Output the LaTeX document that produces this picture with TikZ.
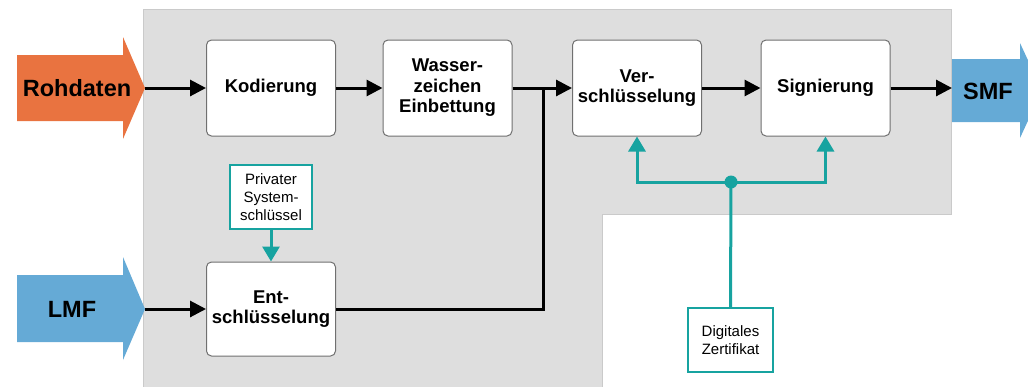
\documentclass[tikz,border=0pt]{standalone}
\usepackage{fontspec}
\setmainfont{Liberation Sans}
\usepackage{xcolor}
\usepackage{tikz}
\usetikzlibrary{arrows.meta,positioning,calc}

\definecolor{grau}{HTML}{DEDEDE}
\definecolor{graurand}{HTML}{CACACA}
\definecolor{orangerot}{HTML}{E97340}
\definecolor{hellblau}{HTML}{65AAD6}
\definecolor{petrol}{HTML}{17A3A0}
\definecolor{kasten}{HTML}{707070}

\begin{document}
\begin{tikzpicture}[x=1pt, y=-1pt,
        block/.style={draw=kasten, line width=1pt, fill=white, rounded corners=5pt,
            minimum width=129pt, minimum height=96pt, align=center,
            font=\fontsize{18.5}{20.5}\selectfont\bfseries},
        schluessel/.style={draw=petrol, line width=1.3pt, fill=white, inner sep=2pt,
            align=center, font=\fontsize{15}{18}\selectfont},
        gross/.style={font=\fontsize{23.5}{26}\selectfont\bfseries},
        fluss/.style={line width=3pt, -{Triangle[length=16pt,width=16pt]}},
        petrolfluss/.style={draw=petrol, line width=3pt, -{Triangle[length=15pt,width=17pt]}}]
    \useasboundingbox (0,0) rectangle (1028,386);
    % grauer Hintergrund
    \draw[graurand, fill=grau, line width=1pt] (143,9) -- (951,9) -- (951,214) -- (602,214)
        -- (602,390) -- (143,390) -- cycle;

    % Eingaenge und Ausgang
    \fill[orangerot] (17,55) -- (123,55) -- (123,37) -- (145,88) -- (123,139) -- (123,121)
        -- (17,121) -- cycle;
    \fill[hellblau] (17,275) -- (123,275) -- (123,257) -- (145,309) -- (123,360) -- (123,342)
        -- (17,342) -- cycle;
    \fill[hellblau] (952,59) -- (1020,59) -- (1020,43) -- (1042,90.5) -- (1020,138) -- (1020,122)
        -- (952,122) -- cycle;
    \coordinate (rohspitze) at (145,88);
    \coordinate (lmfspitze) at (145,309);
    \coordinate (smfende) at (952,88);
    \node [gross] (roh) at (77,88) {Rohdaten};
    \node [gross] (lmf) at (72,309) {LMF};
    \node [gross] (smf) at (988,91) {SMF};

    % Verarbeitung
    \node [block] (kod) at (271,88) {Kodierung};
    \node [block] (wass) at (447.5,88) {Wasser-\\zeichen\\Einbettung};
    \node [block] (ver) at (637,88) {Ver-\\schlüsselung};
    \node [block] (sign) at (825.5,88) {Signierung};
    \node [block, minimum height=94pt] (ent) at (271,309) {Ent-\\schlüsselung};

    \node [schluessel, minimum width=82pt, minimum height=64pt] (priv) at (271,197)
        {Privater\\System-\\schlüssel};
    \node [schluessel, minimum width=85pt, minimum height=64pt] (zert) at (730.5,340)
        {Digitales\\Zertifikat};
    \node [circle, fill=petrol, inner sep=0pt, minimum size=13pt] (punkt) at (731,182) {};
    \coordinate (knick) at (543,88);

    \draw[fluss] (rohspitze) -- (kod.west);
    \draw[fluss] (lmfspitze) -- (ent.west);
    \draw[fluss] (kod.east) -- (wass.west);
    \draw[fluss] (wass.east) -- (ver.west);
    \draw[line width=3pt] (ent.east) -| (knick);
    \draw[fluss] (ver.east) -- (sign.west);
    \draw[fluss] (sign.east) -- (smfende);

    \draw[petrolfluss] (priv.south) -- (ent.north);
    \draw[draw=petrol, line width=3pt] (zert.north) -- (punkt.center);
    \draw[petrolfluss] (punkt.center) -| (ver.south);
    \draw[petrolfluss] (punkt.center) -| (sign.south);
\end{tikzpicture}
\end{document}
